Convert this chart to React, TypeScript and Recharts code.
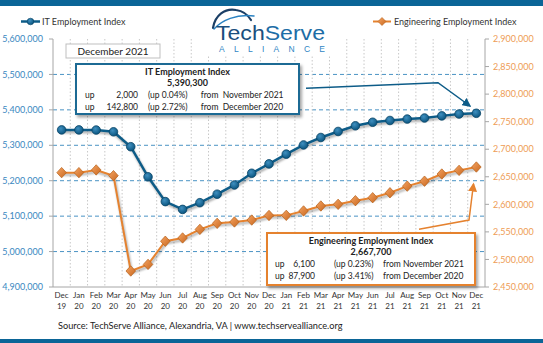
import React from 'react';
import { LineChart, Line, XAxis, YAxis, CartesianGrid } from 'recharts';

const months = [
  'Dec 19', 'Jan 20', 'Feb 20', 'Mar 20', 'Apr 20', 'May 20', 'Jun 20', 'Jul 20', 'Aug 20',
  'Sep 20', 'Oct 20', 'Nov 20', 'Dec 20', 'Jan 21', 'Feb 21', 'Mar 21', 'Apr 21', 'May 21',
  'Jun 21', 'Jul 21', 'Aug 21', 'Sep 21', 'Oct 21', 'Nov 21', 'Dec 21',
];
const itIndex = [
  5343400, 5343400, 5343000, 5338000, 5296000, 5211000, 5141000, 5119000, 5138000,
  5162000, 5188000, 5221000, 5247500, 5275000, 5301000, 5322000, 5339000, 5355000,
  5365000, 5370000, 5374000, 5377000, 5383000, 5388300, 5390300,
];
const engIndex = [
  2657500, 2657500, 2662400, 2652000, 2479000, 2491000, 2533000, 2539000, 2554500,
  2565500, 2568000, 2571500, 2579800, 2580000, 2588000, 2597000, 2600000, 2606600,
  2612000, 2621000, 2633000, 2642000, 2655000, 2661600, 2667700,
];
const leftTicks = [4900000, 5000000, 5100000, 5200000, 5300000, 5400000, 5500000, 5600000];
const rightTicks = [2450000, 2500000, 2550000, 2600000, 2650000, 2700000, 2750000, 2800000, 2850000, 2900000];
const reportMonth = 'December 2021';
const prevMonthLabel = 'November 2021';
const prevYearLabel = 'December 2020';
const itName = 'IT Employment Index';
const engName = 'Engineering Employment Index';
const sourceText = 'Source: TechServe  Alliance, Alexandria, VA | www.techservealliance.org';

const data = months.map((m, i) => ({ month: m, it: itIndex[i], eng: engIndex[i] }));

const W = 543;
const H = 343;
const FONT = 'Lato, "Liberation Sans", Arial, sans-serif';
const LOGO_FONT = '"Liberation Sans", Arial, sans-serif';
const IT_COLOR = '#0d5c88';
const ENG_COLOR = '#e5822f';
const BAR_COLOR = '#0b6597';

const fmt = (v: number) => v.toLocaleString('en-US');

function stats(arr: number[]) {
  const n = arr.length;
  const last = arr[n - 1];
  const dm = last - arr[n - 2];
  const dy = last - arr[n - 13];
  return {
    last,
    dm,
    dy,
    pm: ((dm / arr[n - 2]) * 100).toFixed(2),
    py: ((dy / arr[n - 13]) * 100).toFixed(2),
  };
}
const itStats = stats(itIndex);
const engStats = stats(engIndex);

const MonthTick = (props: any) => {
  const { x, y, payload } = props;
  const [m, yr] = String(payload.value).split(' ');
  return (
    <g>
      <text x={x} y={y + 11} textAnchor="middle" fontSize={8} fill="#333" fontFamily={FONT}>{m}</text>
      <text x={x} y={y + 21.5} textAnchor="middle" fontSize={8} fill="#333" fontFamily={FONT}>{yr}</text>
    </g>
  );
};

const CircleDot = (props: any) => {
  const { cx, cy, index } = props;
  return <circle key={`c${index}`} cx={cx} cy={cy} r={4.3} fill="url(#itDotGrad)" stroke="#094466" strokeWidth={0.8} />;
};

const DiamondDot = (props: any) => {
  const { cx, cy, index } = props;
  const w = 4.8;
  const h = 5.2;
  return (
    <polygon
      key={`d${index}`}
      points={`${cx},${cy - h} ${cx + w},${cy} ${cx},${cy + h} ${cx - w},${cy}`}
      fill="url(#engDotGrad)"
      stroke="#b55e17"
      strokeWidth={0.7}
    />
  );
};

const gridH = ({ offset }: any) => {
  const n = leftTicks.length - 1;
  const out: number[] = [];
  for (let k = 1; k < n; k++) out.push(offset.top + (k * offset.height) / n);
  return out;
};
const gridV = ({ offset }: any) => {
  const n = months.length;
  const out: number[] = [];
  for (let k = 1; k < n; k++) out.push(offset.left + (k * offset.width) / n);
  return out;
};

function Callout(props: {
  x: number; y: number; w: number; h: number; color: string; title: string;
  s: { last: number; dm: number; dy: number; pm: string; py: string };
  cols: number[];
}) {
  const { x, y, w, h, color, title, s, cols } = props;
  const cx = x + w / 2;
  const fs = 8.5;
  const row = (yy: number, d: number, p: string, lbl: string) => (
    <g fontSize={fs} fill="#222" fontFamily={FONT}>
      <text x={cols[0]} y={yy}>up</text>
      <text x={cols[1]} y={yy} textAnchor="end">{fmt(d)}</text>
      <text x={cols[2]} y={yy}>{`(up ${p}%)`}</text>
      <text x={cols[3]} y={yy}>from</text>
      <text x={cols[4]} y={yy}>{lbl}</text>
    </g>
  );
  return (
    <g>
      <rect x={x} y={y} width={w} height={h} fill="#fff" stroke={color} strokeWidth={2} filter="url(#boxShadow)" />
      <text x={cx} y={y + 11.3} textAnchor="middle" fontSize={9} fontWeight="bold" fill="#222" fontFamily={FONT}>{title}</text>
      <text x={cx} y={y + 22.3} textAnchor="middle" fontSize={9} fontWeight="bold" fill="#222" fontFamily={FONT}>{fmt(s.last)}</text>
      {row(y + 34, s.dm, s.pm, prevMonthLabel)}
      {row(y + 45.5, s.dy, s.py, prevYearLabel)}
    </g>
  );
}

export default function App() {
  return (
    <div style={{ position: 'absolute', left: 0, top: 0, width: W, height: H, background: '#fff', overflow: 'hidden' }}>
      <style>{`.series-shadow { filter: drop-shadow(1.5px 2px 1.2px rgba(0,0,0,0.35)); }`}</style>
      <svg width={0} height={0} style={{ position: 'absolute' }}>
        <defs>
          <radialGradient id="itDotGrad" cx="40%" cy="35%" r="65%">
            <stop offset="0%" stopColor="#3f8fbf" />
            <stop offset="100%" stopColor="#0a5580" />
          </radialGradient>
          <linearGradient id="engDotGrad" x1="0" y1="0" x2="1" y2="1">
            <stop offset="0%" stopColor="#f5a463" />
            <stop offset="100%" stopColor="#c9681f" />
          </linearGradient>
        </defs>
      </svg>
      <LineChart
        width={W}
        height={H}
        data={data}
        margin={{ top: 39, right: 0, bottom: 0, left: 0 }}
      >
        <CartesianGrid
          yAxisId="left"
          horizontalCoordinatesGenerator={gridH}
          verticalCoordinatesGenerator={gridV}
          stroke="#4a93c4"
          strokeDasharray="4 3"
          vertical={false}
        />
        <CartesianGrid
          yAxisId="left"
          horizontal={false}
          verticalCoordinatesGenerator={gridV}
          stroke="#c8c8c8"
          strokeDasharray="1.5 2"
        />
        <XAxis
          dataKey="month"
          interval={0}
          height={56}
          padding={{ left: 8.64, right: 8.64 }}
          tick={<MonthTick />}
          tickLine={false}
          tickSize={0}
          tickMargin={0}
          axisLine={{ stroke: '#a6a6a6' }}
        />
        <XAxis
          xAxisId="top"
          orientation="top"
          dataKey="month"
          height={0}
          tick={false}
          tickLine={false}
          axisLine={{ stroke: '#a6a6a6' }}
        />
        <YAxis
          yAxisId="left"
          width={53}
          domain={[leftTicks[0], leftTicks[leftTicks.length - 1]]}
          ticks={leftTicks}
          interval={0}
          tickFormatter={fmt}
          tick={{ fontSize: 9, fill: '#3a88bf', fontFamily: FONT }}
          tickSize={4}
          tickMargin={6}
          tickLine={{ stroke: '#a6a6a6' }}
          axisLine={{ stroke: '#a6a6a6' }}
        />
        <YAxis
          yAxisId="right"
          orientation="right"
          width={58}
          domain={[rightTicks[0], rightTicks[rightTicks.length - 1]]}
          ticks={rightTicks}
          interval={0}
          tickFormatter={fmt}
          tick={{ fontSize: 9, fill: '#ee9c55', fontFamily: FONT }}
          tickSize={4}
          tickMargin={4}
          tickLine={{ stroke: '#a6a6a6' }}
          axisLine={{ stroke: '#a6a6a6' }}
        />
        <Line
          yAxisId="right"
          dataKey="eng"
          name={engName}
          stroke={ENG_COLOR}
          strokeWidth={2}
          dot={<DiamondDot />}
          activeDot={false}
          isAnimationActive={false}
          className="series-shadow"
        />
        <Line
          yAxisId="left"
          dataKey="it"
          name={itName}
          stroke={IT_COLOR}
          strokeWidth={2.5}
          dot={<CircleDot />}
          activeDot={false}
          isAnimationActive={false}
          className="series-shadow"
        />
      </LineChart>
      <svg width={W} height={H} style={{ position: 'absolute', left: 0, top: 0, pointerEvents: 'none' }}>
        <defs>
          <filter id="boxShadow" x="-10%" y="-10%" width="130%" height="140%">
            <feDropShadow dx="2" dy="2.5" stdDeviation="1.5" floodColor="#000" floodOpacity="0.35" />
          </filter>
          <marker id="arrowBlue" markerWidth="6" markerHeight="6" refX="5" refY="3" orient="auto">
            <path d="M0,0 L6,3 L0,6 Z" fill={IT_COLOR} />
          </marker>
          <marker id="arrowOrange" markerWidth="6" markerHeight="6" refX="5" refY="3" orient="auto">
            <path d="M0,0 L6,3 L0,6 Z" fill={ENG_COLOR} />
          </marker>
        </defs>
        {/* top and bottom bars */}
        <rect x={0} y={0} width={W} height={6} fill={BAR_COLOR} />
        <rect x={0} y={339} width={W} height={4} fill={BAR_COLOR} />
        {/* legend */}
        <line x1={21} y1={21.5} x2={40} y2={21.5} stroke={IT_COLOR} strokeWidth={2.5} />
        <circle cx={30.5} cy={21.5} r={3.3} fill="url(#itDotGrad)" stroke="#094466" strokeWidth={0.6} />
        <text x={42} y={24.7} fontSize={9} fill="#333" fontFamily={FONT}>{itName}</text>
        <line x1={373} y1={21.5} x2={391} y2={21.5} stroke={ENG_COLOR} strokeWidth={2} />
        <polygon points="382,17.5 386,21.5 382,25.5 378,21.5" fill="url(#engDotGrad)" stroke="#b55e17" strokeWidth={0.6} />
        <text x={394} y={24.7} fontSize={9} fill="#333" fontFamily={FONT}>{engName}</text>
        {/* logo */}
        <rect x={207} y={8} width={126} height={48} fill="#fff" />
        <path d="M213,28 C215,15 225,8 236,10 C243,11 248,15 251,20" fill="none" stroke="#1b3f66" strokeWidth={2.2} strokeLinecap="round" />
        <path d="M214,29 C222,20 236,14 254,16" fill="none" stroke="#2a82c2" strokeWidth={1.5} strokeLinecap="round" />
        <text x={216} y={39.5} fontSize={21} fontFamily={LOGO_FONT} textLength={109} lengthAdjust="spacingAndGlyphs">
          <tspan fill="#1a4f7e">Tech</tspan>
          <tspan fill="#1d6da6">Serve</tspan>
        </text>
        <text x={219} y={52} fontSize={8.5} fill="#2f86c4" fontFamily={LOGO_FONT} textLength={106} lengthAdjust="spacing">ALLIANCE</text>
        {/* December box */}
        <rect x={66} y={44} width={94} height={14} fill="#fff" stroke="#bfbfbf" strokeWidth={1} />
        <text x={113} y={54.5} textAnchor="middle" fontSize={10} fill="#222" fontFamily={FONT}>{reportMonth}</text>
        {/* arrows */}
        <polyline points="306,88.3 438,82.7 470,106" fill="none" stroke={IT_COLOR} strokeWidth={1.5} markerEnd="url(#arrowBlue)" />
        <polyline points="419,229.3 469,220 473.5,184" fill="none" stroke={ENG_COLOR} strokeWidth={1.5} markerEnd="url(#arrowOrange)" />
        {/* callouts */}
        <Callout x={76} y={64} w={223} h={50} color="#1a6a94" title={itName} s={itStats} cols={[85, 138, 148, 200.7, 222.7]} />
        <Callout x={267} y={233} w={208} h={52} color={ENG_COLOR} title={engName} s={engStats} cols={[275, 315, 334, 383, 403]} />
        {/* source */}
        <text x={58} y={329} fontSize={9.2} fill="#222" fontFamily={FONT}>{sourceText}</text>
      </svg>
    </div>
  );
}
